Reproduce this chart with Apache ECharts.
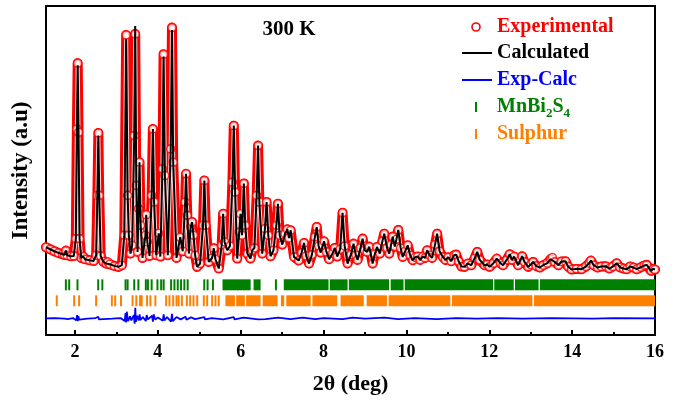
<!DOCTYPE html>
<html lang="en">
<head>
<meta charset="UTF-8">
<title>MnBi2S4 300 K</title>
<style>
  body { margin: 0; overflow: hidden; background: #fff; }
  #chart { width: 684px; height: 409px; }
</style>
</head>
<body>
<div id="chart"></div>
<script src="https://cdn.jsdelivr.net/npm/echarts@6/dist/echarts.min.js"></script>
<script>
// observed profile, [2theta (deg), intensity (a.u.)]
var obs = [
  [1.30, 264], [1.40, 258], [1.50, 252], [1.60, 247], [1.70, 243], [1.75, 241], [1.78, 254], [1.81, 240],
  [1.90, 237], [1.97, 238], [2.02, 290], [2.045, 620], [2.065, 818], [2.085, 610], [2.11, 290],
  [2.15, 232], [2.20, 236], [2.24, 228], [2.35, 225], [2.45, 223], [2.51, 240], [2.54, 420],
  [2.564, 608], [2.585, 420], [2.62, 238], [2.68, 221], [2.75, 215], [2.79, 220], [2.84, 213],
  [2.95, 208], [3.05, 205], [3.13, 210], [3.19, 300], [3.235, 903], [3.27, 420], [3.30, 300], [3.34, 245],
  [3.38, 270], [3.43, 600], [3.453, 906], [3.48, 450], [3.51, 250], [3.535, 380], [3.557, 520],
  [3.585, 330], [3.63, 232], [3.70, 300], [3.72, 362], [3.745, 280], [3.80, 238], [3.85, 420],
  [3.88, 620], [3.91, 400], [3.96, 240], [4.02, 306], [4.06, 236], [4.11, 500], [4.138, 845],
  [4.17, 480], [4.24, 240], [4.31, 560], [4.341, 925], [4.37, 520], [4.45, 232], [4.54, 294],
  [4.60, 252], [4.66, 400], [4.68, 485], [4.71, 360], [4.75, 245], [4.79, 325], [4.826, 340],
  [4.86, 300], [4.90, 240], [4.947, 205], [5.02, 215], [5.09, 330], [5.123, 465], [5.155, 330],
  [5.227, 220], [5.31, 232], [5.349, 261], [5.39, 228], [5.47, 200], [5.54, 270], [5.576, 365],
  [5.61, 280], [5.673, 255], [5.74, 268], [5.80, 460], [5.833, 630], [5.865, 430], [5.915, 230],
  [5.965, 310], [5.995, 365], [6.03, 300], [6.075, 456], [6.11, 330], [6.16, 245], [6.237, 230],
  [6.28, 255], [6.33, 262], [6.385, 420], [6.419, 570], [6.45, 400], [6.52, 245], [6.585, 320],
  [6.625, 400], [6.665, 300], [6.72, 237], [6.79, 255], [6.86, 330], [6.898, 395], [6.94, 300],
  [7.005, 272], [7.07, 305], [7.126, 318], [7.165, 292], [7.206, 315], [7.286, 235], [7.40, 224],
  [7.47, 248], [7.528, 277], [7.58, 238], [7.649, 215], [7.72, 242], [7.79, 295], [7.835, 325],
  [7.88, 268], [7.93, 248], [8.012, 282], [8.07, 250], [8.133, 228], [8.22, 246], [8.271, 262],
  [8.33, 236], [8.40, 258], [8.458, 368], [8.51, 268], [8.579, 215], [8.66, 242], [8.724, 275],
  [8.78, 240], [8.821, 226], [8.89, 262], [8.942, 290], [8.99, 255], [9.05, 250], [9.102, 266],
  [9.184, 215], [9.24, 245], [9.288, 265], [9.36, 245], [9.42, 282], [9.465, 305], [9.53, 262],
  [9.586, 245], [9.63, 272], [9.668, 296], [9.72, 266], [9.76, 288], [9.804, 316], [9.86, 262],
  [9.91, 235], [9.97, 252], [10.031, 270], [10.09, 240], [10.152, 225], [10.21, 234], [10.273, 236],
  [10.33, 226], [10.395, 236], [10.45, 232], [10.499, 255], [10.56, 240], [10.62, 232], [10.69, 272],
  [10.741, 305], [10.80, 252], [10.879, 235], [10.94, 226], [11.007, 234], [11.08, 222], [11.15, 240],
  [11.20, 242], [11.26, 222], [11.33, 206], [11.40, 205], [11.48, 215], [11.564, 210], [11.65, 232],
  [11.709, 250], [11.77, 226], [11.886, 210], [11.95, 212], [12.007, 205], [12.10, 216], [12.18, 230],
  [12.27, 216], [12.332, 210], [12.42, 226], [12.492, 243], [12.55, 226], [12.60, 236], [12.695, 210],
  [12.75, 226], [12.792, 237], [12.85, 220], [12.937, 205], [13.0, 212], [13.058, 220], [13.13, 208],
  [13.218, 203], [13.30, 210], [13.40, 216], [13.48, 228], [13.525, 233], [13.58, 220], [13.67, 210],
  [13.74, 221], [13.84, 222], [13.90, 206], [13.985, 197], [14.10, 199], [14.227, 198], [14.33, 206],
  [14.41, 216], [14.453, 224], [14.52, 210], [14.615, 203], [14.70, 206], [14.809, 207], [14.90, 200],
  [14.98, 206], [15.075, 216], [15.15, 204], [15.24, 200], [15.317, 198], [15.40, 206], [15.48, 203],
  [15.56, 198], [15.66, 204], [15.74, 209], [15.80, 211], [15.905, 193], [15.96, 199], [16.0, 197]
];

// calculated intensity where it differs from observed (peak tops)
var calcPeaks = [[2.065, 812], [2.564, 600], [3.235, 891], [3.453, 930], [4.138, 838], [4.341, 918]];

// Exp - Calc residual, [2theta, I]
var diff = [
  [1.30, 0], [1.5, 1], [1.75, -1], [1.78, 3], [1.82, -2], [1.95, 1], [2.03, -6], [2.05, 10], [2.065, -8],
  [2.08, 7], [2.10, -4], [2.14, 2], [2.3, -1], [2.5, 1], [2.54, -4], [2.56, 5], [2.58, -3], [2.62, 1],
  [2.9, -1], [3.1, 1], [3.2, -8], [3.22, 16], [3.235, -12], [3.25, 20], [3.28, -8], [3.33, 6], [3.36, -6],
  [3.42, 10], [3.44, -16], [3.455, 32], [3.47, -10], [3.50, 8], [3.54, -6], [3.56, 12], [3.58, -5],
  [3.64, 4], [3.71, -8], [3.73, 10], [3.76, -3], [3.86, 8], [3.88, -10], [3.90, 12], [3.94, -4], [4.0, 3],
  [4.12, -7], [4.14, 12], [4.16, -6], [4.22, 4], [4.32, -10], [4.34, 14], [4.36, -8], [4.45, 4],
  [4.55, -3], [4.67, 5], [4.69, -4], [4.8, 3], [4.9, -2], [5.12, 4], [5.14, -3], [5.3, 1], [5.58, -3],
  [5.83, 4], [5.85, -3], [6.07, 2], [6.42, -3], [6.44, 3], [6.6, -2], [6.9, 2], [7.2, -2], [7.5, 2],
  [7.8, -2], [8.0, 1], [8.46, -2], [8.7, 2], [9.0, -1], [9.47, 2], [9.8, -2], [10.2, 1], [10.74, -2],
  [11.2, 1], [11.7, -1], [12.2, 1], [12.8, -1], [13.5, 1], [14.5, -1], [15.0, 1], [16.0, 0]
];
var diffOffset = 50;

// Bragg reflection positions: single ticks and dense bands [from, to]
var mnbiTicks = [1.78, 1.86, 2.06, 2.56, 2.66, 3.22, 3.27, 3.43, 3.53, 3.71, 3.76, 3.85, 3.99, 4.08,
  4.14, 4.32, 4.40, 4.48, 4.56, 4.64, 4.72, 5.12, 5.20, 5.33, 6.85];
var mnbiBands = [[5.56, 6.24], [6.31, 6.48], [7.04, 8.12], [8.15, 8.58], [8.61, 9.58], [9.62, 9.93],
  [9.96, 12.09], [12.12, 12.59], [12.62, 13.19], [13.22, 16]];
var sulphurTicks = [1.56, 1.98, 2.10, 2.51, 2.89, 2.97, 3.11, 3.39, 3.48, 3.57, 3.61, 3.74, 3.82, 3.94,
  4.20, 4.28, 4.37, 4.45, 4.50, 4.58, 4.70, 4.78, 4.86, 4.95, 5.11, 5.19, 5.31, 5.39, 5.47];
var sulphurBands = [[5.63, 5.86], [5.89, 6.10], [6.13, 6.48], [6.53, 6.89], [6.97, 7.05], [7.10, 7.69],
  [7.73, 8.33], [8.41, 8.97], [9.04, 9.53], [9.57, 11.06], [11.10, 13.04], [13.08, 16]];
var mnbiRow = 151, sulphurRow = 103, tickHeight = 33;

var majorTicks = [2, 4, 6, 8, 10, 12, 14, 16];
var minorTicks = [3, 5, 7, 9, 11, 13, 15];

var serif = '"Times New Roman", "Liberation Serif", serif';
var red = '#ff0000', blue = '#0000ff', green = '#008000', orange = '#ff8000';

var calc = obs.map(function (p) {
  for (var i = 0; i < calcPeaks.length; i++) {
    if (calcPeaks[i][0] === p[0]) return [p[0], calcPeaks[i][1]];
  }
  return p;
});
var diffLine = diff.map(function (p) { return [p[0], p[1] + diffOffset]; });

function tickData(ticks, bands) {
  return ticks.map(function (t) { return [t, t]; }).concat(bands);
}

function tickRender(row) {
  return function (params, api) {
    var a = api.coord([api.value(0), row]);
    var b = api.coord([api.value(1), row]);
    var h = api.size([0, tickHeight])[1];
    var w = b[0] - a[0];
    var x0 = a[0];
    if (w < 2) { x0 = a[0] - 1; w = 2; }
    return {
      type: 'rect',
      shape: { x: x0, y: a[1] - h / 2, width: w, height: h },
      style: { fill: api.visual('color') }
    };
  };
}

var myChart = echarts.init(document.getElementById('chart'));

var legendX = 497;
var legendFont = 20;
var option = {
  animation: false,
  grid: { left: 46, right: 29, top: 6, bottom: 74, show: true, borderColor: '#000', borderWidth: 2 },
  xAxis: [{
    type: 'value', min: 1.3, max: 16,
    axisLine: { show: false },
    splitLine: { show: false },
    axisTick: { inside: true, length: 5, customValues: majorTicks, lineStyle: { color: '#000', width: 2 } },
    axisLabel: { customValues: majorTicks, color: '#000', fontFamily: serif, fontWeight: 'bold', fontSize: 18, margin: 8 },
    name: '2θ (deg)', nameLocation: 'middle', nameGap: 38,
    nameTextStyle: { color: '#000', fontFamily: serif, fontWeight: 'bold', fontSize: 22 }
  }, {
    type: 'value', min: 1.3, max: 16, position: 'bottom',
    axisLine: { show: false }, splitLine: { show: false }, axisLabel: { show: false },
    axisTick: { inside: true, length: 3, customValues: minorTicks, lineStyle: { color: '#000', width: 2 } }
  }],
  yAxis: {
    type: 'value', min: 0, max: 990,
    axisLine: { show: false }, axisTick: { show: false }, axisLabel: { show: false }, splitLine: { show: false },
    name: 'Intensity (a.u)', nameLocation: 'middle', nameGap: 13,
    nameTextStyle: { color: '#000', fontFamily: serif, fontWeight: 'bold', fontSize: 23 }
  },
  series: [
    {
      name: 'Experimental', type: 'line', data: obs, showSymbol: false, silent: true, z: 2,
      lineStyle: { color: red, width: 10, join: 'round', cap: 'round' }
    },
    {
      name: 'Experimental core', type: 'line', data: obs, showSymbol: false, silent: true, z: 3,
      lineStyle: { color: '#ffd0d0', width: 4, join: 'round', cap: 'round' }
    },
    {
      name: 'Experimental points', type: 'scatter', data: obs, symbol: 'circle', symbolSize: 8, silent: true, z: 4,
      itemStyle: { color: '#fff', borderColor: red, borderWidth: 1.6 }
    },
    {
      name: 'Calculated', type: 'line', data: calc, showSymbol: false, silent: true, z: 5,
      lineStyle: { color: '#000', width: 2 }
    },
    {
      name: 'Exp-Calc', type: 'line', data: diffLine, showSymbol: false, silent: true, z: 5,
      lineStyle: { color: blue, width: 1.8 }
    },
    {
      name: 'MnBi2S4', type: 'custom', data: tickData(mnbiTicks, mnbiBands), silent: true, z: 5,
      itemStyle: { color: green }, renderItem: tickRender(mnbiRow)
    },
    {
      name: 'Sulphur', type: 'custom', data: tickData(sulphurTicks, sulphurBands), silent: true, z: 5,
      itemStyle: { color: orange }, renderItem: tickRender(sulphurRow)
    }
  ],
  graphic: [
    { type: 'text', x: 289, y: 30, style: { text: '300 K', fill: '#000', fontFamily: serif, fontWeight: 'bold', fontSize: 21, align: 'center', verticalAlign: 'middle' } },
    { type: 'circle', shape: { cx: 476, cy: 27, r: 4 }, style: { fill: '#fff', stroke: red, lineWidth: 1.6 } },
    { type: 'text', x: legendX, y: 27, style: { text: 'Experimental', fill: red, fontFamily: serif, fontWeight: 'bold', fontSize: legendFont, verticalAlign: 'middle' } },
    { type: 'line', shape: { x1: 462, y1: 53, x2: 492, y2: 53 }, style: { stroke: '#000', lineWidth: 2 } },
    { type: 'text', x: legendX, y: 53, style: { text: 'Calculated', fill: '#000', fontFamily: serif, fontWeight: 'bold', fontSize: legendFont, verticalAlign: 'middle' } },
    { type: 'line', shape: { x1: 462, y1: 80, x2: 492, y2: 80 }, style: { stroke: blue, lineWidth: 2 } },
    { type: 'text', x: legendX, y: 80, style: { text: 'Exp-Calc', fill: blue, fontFamily: serif, fontWeight: 'bold', fontSize: legendFont, verticalAlign: 'middle' } },
    { type: 'rect', shape: { x: 475, y: 102, width: 2, height: 10 }, style: { fill: green } },
    {
      type: 'text', x: legendX, y: 107,
      style: {
        text: 'MnBi{s|2}S{s|4}', fill: green, fontFamily: serif, fontWeight: 'bold', fontSize: legendFont, lineHeight: 22, verticalAlign: 'middle',
        rich: { s: { fill: green, fontFamily: serif, fontWeight: 'bold', fontSize: 13, lineHeight: 27, verticalAlign: 'bottom' } }
      }
    },
    { type: 'rect', shape: { x: 475, y: 129, width: 2, height: 10 }, style: { fill: orange } },
    { type: 'text', x: legendX, y: 134, style: { text: 'Sulphur', fill: orange, fontFamily: serif, fontWeight: 'bold', fontSize: legendFont, verticalAlign: 'middle' } }
  ]
};

myChart.setOption(option);
</script>
</body>
</html>
